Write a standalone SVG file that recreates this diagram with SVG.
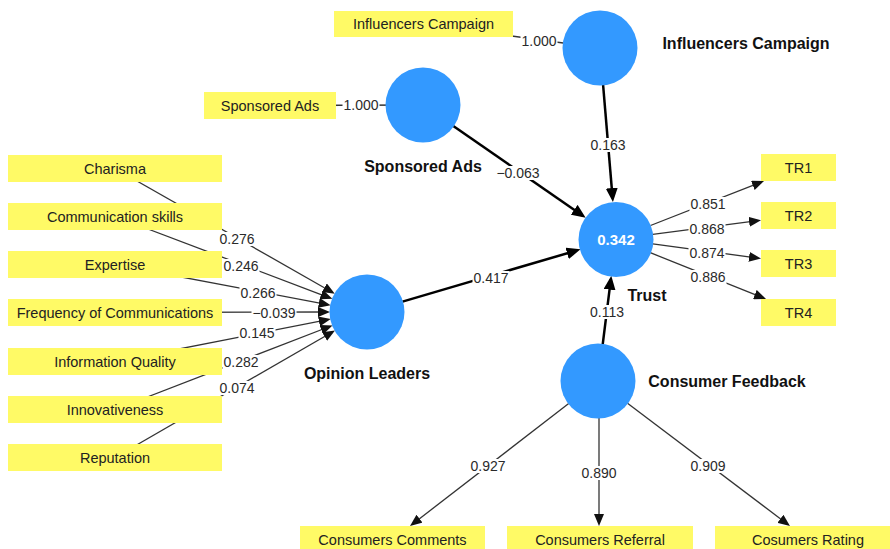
<svg xmlns="http://www.w3.org/2000/svg" width="890" height="549" viewBox="0 0 890 549">
<style>
.box{fill:#FFFA66}
.bt{font-family:"Liberation Sans",Arial,sans-serif;font-size:14.5px;fill:#222;text-anchor:middle;dominant-baseline:central}
.lv{font-family:"Liberation Sans",Arial,sans-serif;font-size:14px;fill:#2a2a2a;text-anchor:middle;dominant-baseline:central}
.bg{fill:#fff}
.cn{font-family:"Liberation Sans",Arial,sans-serif;font-size:16px;font-weight:bold;fill:#111;text-anchor:middle;dominant-baseline:central}
.lat{fill:#3399FF}
.sp{stroke:#000;stroke-width:2.5;fill:none;marker-end:url(#ah)}
.ind{stroke:#333;stroke-width:1.3;fill:none}
.inda{stroke:#333;stroke-width:1.3;fill:none;marker-end:url(#ai)}
</style>
<defs>
<marker id="ah" viewBox="0 0 14 12" refX="10" refY="6" markerWidth="14" markerHeight="12" markerUnits="userSpaceOnUse" orient="auto"><path d="M0,0 L14,6 L0,12 z" fill="#000"/></marker>
<marker id="ai" viewBox="0 0 12 10" refX="9" refY="5" markerWidth="12" markerHeight="10" markerUnits="userSpaceOnUse" orient="auto"><path d="M0,0 L12,5 L0,10 z" fill="#111"/></marker>
</defs>
<rect width="890" height="549" fill="#fff"/>
<g id="connectors">
<line class="ind" x1="423.5" y1="24" x2="600" y2="48"/>
<line class="ind" x1="270" y1="105.5" x2="423" y2="105"/>
<line class="inda" x1="115" y1="168.5" x2="332.2" y2="292.2"/>
<line class="inda" x1="115" y1="216.5" x2="329.6" y2="297.8"/>
<line class="inda" x1="115" y1="264.5" x2="327.7" y2="304.6"/>
<line class="inda" x1="115" y1="312.5" x2="327" y2="312"/>
<line class="inda" x1="115" y1="361.5" x2="327.8" y2="319.7"/>
<line class="inda" x1="115" y1="409.5" x2="329.7" y2="326.5"/>
<line class="inda" x1="115" y1="457.5" x2="332.4" y2="332"/>
<line class="sp" x1="453.3" y1="126" x2="582.4" y2="215.5"/>
<line class="sp" x1="603.1" y1="85" x2="612.6" y2="198.1"/>
<line class="sp" x1="402.5" y1="301.6" x2="576.7" y2="250.5"/>
<line class="sp" x1="602.7" y1="344.3" x2="610.8" y2="279.7"/>
<line class="inda" x1="650.5" y1="225.5" x2="761.2" y2="182.1"/>
<line class="inda" x1="652.7" y1="234.3" x2="758" y2="220.7"/>
<line class="inda" x1="652.7" y1="243.9" x2="758" y2="258.1"/>
<line class="inda" x1="650.3" y1="252.7" x2="763.2" y2="297.9"/>
<line class="inda" x1="568.7" y1="403.6" x2="412.4" y2="524.2"/>
<line class="inda" x1="599" y1="418" x2="599" y2="523"/>
<line class="inda" x1="627.5" y1="403.3" x2="787.6" y2="524.2"/>
</g>
<g id="influencers-campaign">
<circle class="lat" cx="600" cy="48" r="37.5"/>
<text class="cn" x="746" y="43">Influencers Campaign</text>
</g>
<g id="sponsored-ads">
<circle class="lat" cx="423" cy="105" r="37.5"/>
<text class="cn" x="423" y="166">Sponsored Ads</text>
</g>
<g id="opinion-leaders">
<circle class="lat" cx="367" cy="312" r="37.5"/>
<text class="cn" x="367" y="373">Opinion Leaders</text>
</g>
<g id="trust">
<circle class="lat" cx="616" cy="239.5" r="37.5"/>
<text class="cn" x="616" y="239.5" style="fill:#fff;font-size:15px">0.342</text>
<text class="cn" x="647" y="295">Trust</text>
</g>
<g id="consumer-feedback">
<circle class="lat" cx="598" cy="381" r="37.5"/>
<text class="cn" x="727" y="381">Consumer Feedback</text>
</g>
<g id="ind-influencers-campaign"><rect class="box" x="334" y="11" width="179" height="26"/><text class="bt" x="423.5" y="24">Influencers Campaign</text></g>
<g id="ind-sponsored-ads"><rect class="box" x="204" y="92" width="132" height="27"/><text class="bt" x="270" y="105.5">Sponsored Ads</text></g>
<g id="ind-charisma"><rect class="box" x="8" y="155" width="214" height="27"/><text class="bt" x="115" y="168.5">Charisma</text></g>
<g id="ind-communication-skills"><rect class="box" x="8" y="203" width="214" height="27"/><text class="bt" x="115" y="216.5">Communication skills</text></g>
<g id="ind-expertise"><rect class="box" x="8" y="251" width="214" height="27"/><text class="bt" x="115" y="264.5">Expertise</text></g>
<g id="ind-frequency"><rect class="box" x="8" y="299" width="214" height="27"/><text class="bt" x="115" y="312.5">Frequency of Communications</text></g>
<g id="ind-information-quality"><rect class="box" x="8" y="348" width="214" height="27"/><text class="bt" x="115" y="361.5">Information Quality</text></g>
<g id="ind-innovativeness"><rect class="box" x="8" y="396" width="214" height="27"/><text class="bt" x="115" y="409.5">Innovativeness</text></g>
<g id="ind-reputation"><rect class="box" x="8" y="444" width="214" height="27"/><text class="bt" x="115" y="457.5">Reputation</text></g>
<g id="ind-tr1"><rect class="box" x="761" y="154" width="75" height="27"/><text class="bt" x="798.5" y="167.5">TR1</text></g>
<g id="ind-tr2"><rect class="box" x="761" y="202" width="75" height="27"/><text class="bt" x="798.5" y="215.5">TR2</text></g>
<g id="ind-tr3"><rect class="box" x="761" y="250" width="75" height="27"/><text class="bt" x="798.5" y="263.5">TR3</text></g>
<g id="ind-tr4"><rect class="box" x="761" y="299" width="75" height="27"/><text class="bt" x="798.5" y="312.5">TR4</text></g>
<g id="ind-consumers-comments"><rect class="box" x="300" y="526" width="185" height="27"/><text class="bt" x="392.5" y="539.5">Consumers Comments</text></g>
<g id="ind-consumers-referral"><rect class="box" x="507" y="526" width="186" height="27"/><text class="bt" x="600" y="539.5">Consumers Referral</text></g>
<g id="ind-cosumers-rating"><rect class="box" x="715" y="526" width="186" height="27"/><text class="bt" x="808" y="539.5">Cosumers Rating</text></g>
<g id="labels">
<rect class="bg" x="520.5" y="34" width="37" height="14"/><text class="lv" x="539" y="41">1.000</text>
<rect class="bg" x="342.5" y="98" width="37" height="14"/><text class="lv" x="361" y="105">1.000</text>
<rect class="bg" x="218.5" y="232" width="37" height="14"/><text class="lv" x="237" y="239">0.276</text>
<rect class="bg" x="222.5" y="259" width="37" height="14"/><text class="lv" x="241" y="266">0.246</text>
<rect class="bg" x="239.5" y="286" width="37" height="14"/><text class="lv" x="258" y="293">0.266</text>
<rect class="bg" x="251.5" y="306" width="45" height="14"/><text class="lv" x="274" y="313">−0.039</text>
<rect class="bg" x="238.5" y="326" width="37" height="14"/><text class="lv" x="257" y="333">0.145</text>
<rect class="bg" x="222.5" y="355" width="37" height="14"/><text class="lv" x="241" y="362">0.282</text>
<rect class="bg" x="218.5" y="381" width="37" height="14"/><text class="lv" x="237" y="388">0.074</text>
<rect class="bg" x="495.5" y="166" width="45" height="14"/><text class="lv" x="518" y="173">−0.063</text>
<rect class="bg" x="589.5" y="138" width="37" height="14"/><text class="lv" x="608" y="145">0.163</text>
<rect class="bg" x="472.5" y="271" width="37" height="14"/><text class="lv" x="491" y="278">0.417</text>
<rect class="bg" x="588.5" y="305" width="37" height="14"/><text class="lv" x="607" y="312">0.113</text>
<rect class="bg" x="689.5" y="197" width="37" height="14"/><text class="lv" x="708" y="204">0.851</text>
<rect class="bg" x="688.5" y="222" width="37" height="14"/><text class="lv" x="707" y="229">0.868</text>
<rect class="bg" x="688.5" y="246" width="37" height="14"/><text class="lv" x="707" y="253">0.874</text>
<rect class="bg" x="689.5" y="270" width="37" height="14"/><text class="lv" x="708" y="277">0.886</text>
<rect class="bg" x="469.5" y="459" width="37" height="14"/><text class="lv" x="488" y="466">0.927</text>
<rect class="bg" x="580.5" y="466" width="37" height="14"/><text class="lv" x="599" y="473">0.890</text>
<rect class="bg" x="689.5" y="459" width="37" height="14"/><text class="lv" x="708" y="466">0.909</text>
</g>
</svg>
